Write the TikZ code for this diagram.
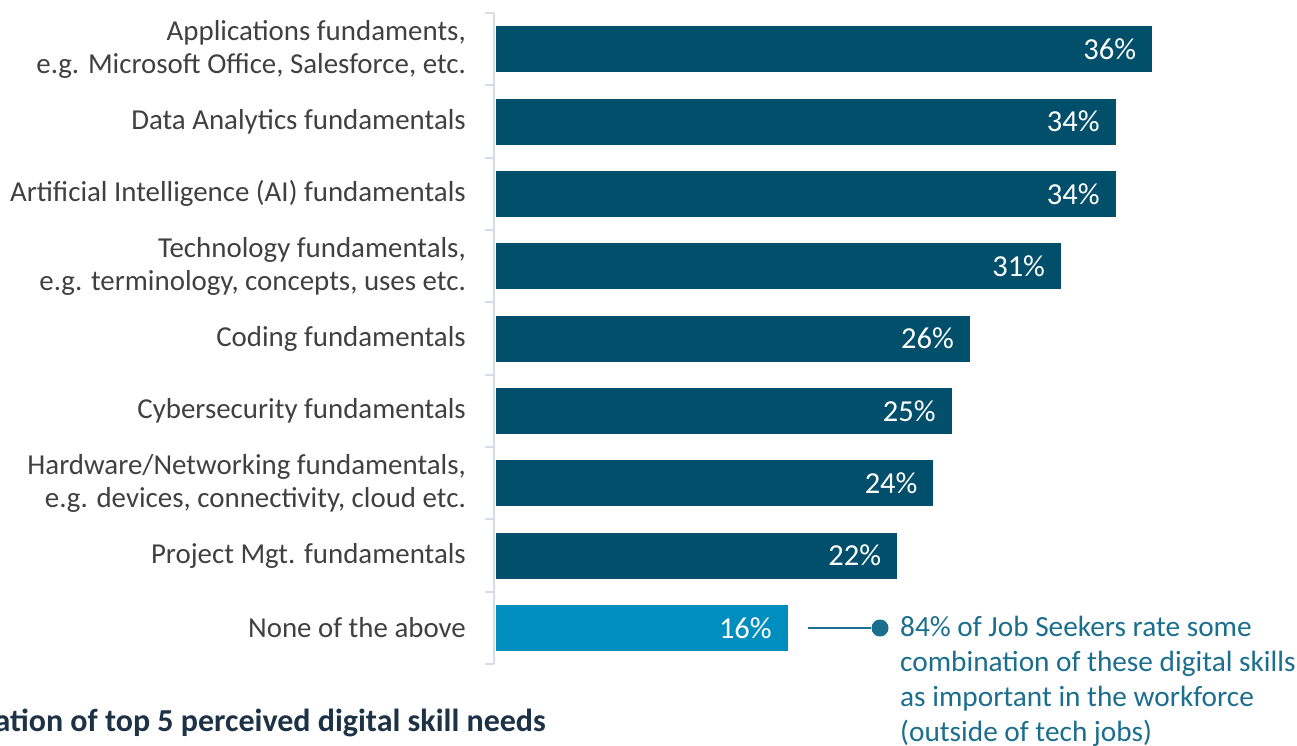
\documentclass[tikz,border=0pt]{standalone}
\usepackage{fontspec}
\setmainfont{Carlito}
\definecolor{bardark}{HTML}{024F6B}
\definecolor{barlight}{HTML}{008EBF}
\definecolor{labgray}{HTML}{404040}
\definecolor{axisc}{HTML}{D5DDE6}
\definecolor{annc}{HTML}{1B6E8E}
\definecolor{titlec}{HTML}{1E3246}
\tikzset{
  bar/.style={fill=bardark, draw=none, minimum height=46pt, inner sep=0pt, anchor=west},
  lbar/.style={bar, fill=barlight},
  cat/.style={anchor=east, align=right, text=labgray, font=\fontsize{28.9}{33}\selectfont, inner sep=0pt},
  val/.style={anchor=east, text=white, font=\fontsize{30.5}{33}\selectfont, inner sep=0pt},
  ann/.style={anchor=north west, align=left, text=annc, font=\fontsize{29.3}{35.2}\selectfont, inner sep=0pt},
}
\begin{document}
\begin{tikzpicture}[x=1pt,y=-1pt]
\useasboundingbox (0,0) rectangle (1297,745);
\clip (0,0) rectangle (1297,745);
% axis
\draw[axisc, line width=2pt] (494,13) -- (494,664);
\foreach \k in {0,...,9} {
  \draw[axisc, line width=2pt] (485,{13+72.33*\k}) -- (494,{13+72.33*\k});
}
% bars
\def\pp{18.22}
\node[bar, minimum width={36*\pp pt}] (b1) at (496,49.2) {};
\node[bar, minimum width={34*\pp pt}] (b2) at (496,121.5) {};
\node[bar, minimum width={34*\pp pt}] (b3) at (496,193.8) {};
\node[bar, minimum width={31*\pp pt}] (b4) at (496,266.2) {};
\node[bar, minimum width={26*\pp pt}] (b5) at (496,338.5) {};
\node[bar, minimum width={25*\pp pt}] (b6) at (496,410.8) {};
\node[bar, minimum width={24*\pp pt}] (b7) at (496,483.2) {};
\node[bar, minimum width={22*\pp pt}] (b8) at (496,555.5) {};
\node[lbar, minimum width={16*\pp pt}] (b9) at (496,627.8) {};
% values
\node[val] (v1) at ([xshift=-16pt]b1.east) {36\%};
\node[val] (v2) at ([xshift=-16pt]b2.east) {34\%};
\node[val] (v3) at ([xshift=-16pt]b3.east) {34\%};
\node[val] (v4) at ([xshift=-16pt]b4.east) {31\%};
\node[val] (v5) at ([xshift=-16pt]b5.east) {26\%};
\node[val] (v6) at ([xshift=-16pt]b6.east) {25\%};
\node[val] (v7) at ([xshift=-16pt]b7.east) {24\%};
\node[val] (v8) at ([xshift=-16pt]b8.east) {22\%};
\node[val] (v9) at ([xshift=-16pt]b9.east) {16\%};
% categories
\node[cat] (c1) at (466,49.2) {Applications fundaments,\\e.g. Microsoft Office, Salesforce, etc.};
\node[cat] (c2) at (466,121.5) {Data Analytics fundamentals};
\node[cat] (c3) at (466,193.8) {Artificial Intelligence (AI) fundamentals};
\node[cat] (c4) at (466,266.2) {Technology fundamentals,\\e.g. terminology, concepts, uses etc.};
\node[cat] (c5) at (466,338.5) {Coding fundamentals};
\node[cat] (c6) at (466,410.8) {Cybersecurity fundamentals};
\node[cat] (c7) at (466,483.2) {Hardware/Networking fundamentals,\\e.g. devices, connectivity, cloud etc.};
\node[cat] (c8) at (466,555.5) {Project Mgt. fundamentals};
\node[cat] (c9) at (466,627.8) {None of the above};
% annotation
\coordinate (a0) at (808,628);
\node[circle, fill=annc, inner sep=0pt, minimum size=17pt] (dot) at (880,628) {};
\draw[annc, line width=2pt] (a0) -- (dot);
\node[ann] (note) at (900,615.5) {84\% of Job Seekers rate some\\combination of these digital skills\\as important in the workforce\\(outside of tech jobs)};
% title (cut off at left edge)
\node[anchor=base east, text=titlec, font=\bfseries\fontsize{32}{36}\selectfont, inner sep=0pt] (title) at (546,731) {Combination of top 5 perceived digital skill needs};
\end{tikzpicture}
\end{document}
